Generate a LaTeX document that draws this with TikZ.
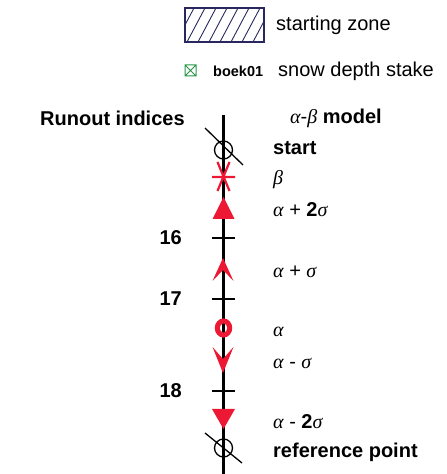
\documentclass[tikz,border=0pt]{standalone}
\usepackage{fontspec}
\setmainfont{Liberation Sans}
\newfontfamily\grkfont{Liberation Serif}
\newcommand{\ga}{{\grkfont\itshape α}}
\newcommand{\gb}{{\grkfont\itshape β}}
\newcommand{\gs}{{\grkfont\itshape σ}}
\definecolor{symred}{RGB}{236,24,52}
\definecolor{boxnavy}{RGB}{40,40,95}
\definecolor{stakegreen}{RGB}{40,150,70}
\tikzset{
  txt/.style={anchor=west,inner sep=0pt,font=\fontsize{20}{24}\selectfont},
  boldtxt/.style={txt,font=\fontsize{20}{24}\selectfont\bfseries},
  idx/.style={anchor=east,inner sep=0pt,font=\fontsize{20}{24}\selectfont\bfseries},
  tick/.style={line width=2.4pt},
  sym/.style={symred,fill=symred},
}

\begin{document}
\begin{tikzpicture}[x=1pt,y=1pt]
  \useasboundingbox (0,0) rectangle (447,474);
  % legend
  \begin{scope}
    \clip (185,432) rectangle (264,466);
    \foreach \i in {0,...,9}
      \draw[boxnavy,line width=0.9pt] (165+\i*11,432) -- (183+\i*11,466);
  \end{scope}
  \draw[boxnavy,line width=2pt] (185,432) rectangle (264,466);
  \node[txt] (zone) at (276,449) {starting zone};
  \draw[stakegreen,line width=1pt] (185,398) rectangle (196,409)
    (185,398) -- (196,409) (185,409) -- (196,398);
  \node[txt,font=\fontsize{14.5}{17}\selectfont\bfseries] (id) at (213,403) {boek01};
  \node[txt] (stake) at (278,403) {snow depth stake};
  % headings
  \node[boldtxt] (runout) at (40,356) {Runout indices};
  \node[txt] (model) at (290,356) {\ga-\gb\ \textbf{model}};
  % profile line
  \coordinate (top) at (223,359);
  \coordinate (bot) at (223,0);
  \draw[line width=3pt] (top) -- (bot);
  % start and reference point
  \coordinate (S) at (223.5,324);
  \coordinate (R) at (223.5,26);
  \draw[line width=1.3pt] (S) circle (9pt) (205,346) -- (243,309);
  \draw[line width=1.3pt] (R) circle (9pt) (205,41) -- (242,11);
  % runout indices ticks
  \foreach \y/\n in {236/16,175/17,83/18} {
    \draw[tick] (212,\y) -- (235,\y);
    \node[idx] (i\n) at (182,\y) {\n};
  }
  % beta
  \coordinate (B) at (223.5,297);
  \draw[symred,line width=2.2pt] (212,297) -- (235,297)
    (217.5,312) -- (229.5,283) (229.5,312) -- (217.5,283);
  % alpha + 2 sigma
  \fill[sym] (223.5,277) -- (234.5,255) -- (212.5,255) -- cycle;
  % alpha + sigma
  \fill[sym] (223,216) -- (233.5,193) -- (223,204) -- (212.5,193) -- cycle;
  % alpha
  \draw[symred,line width=5pt] (223.5,146) ellipse (6.2pt and 7pt);
  % alpha - sigma
  \fill[sym] (223,101) -- (233.5,127) -- (223,115) -- (212.5,127) -- cycle;
  % alpha - 2 sigma
  \fill[sym] (223.5,45) -- (235,65) -- (212,65) -- cycle;
  % model labels
  \node[boldtxt] (lstart) at (273,326) {start};
  \node[txt] (lbeta) at (273,294) {\gb};
  \node[txt] (l2p) at (273,264) {\ga\ + \textbf{2}\gs};
  \node[txt] (l1p) at (273,202) {\ga\ + \gs};
  \node[txt] (la) at (273,142) {\ga};
  \node[txt] (l1m) at (273,111) {\ga\ - \gs};
  \node[txt] (l2m) at (273,52) {\ga\ - \textbf{2}\gs};
  \node[boldtxt] (lref) at (273,22) {reference point};
\end{tikzpicture}
\end{document}
